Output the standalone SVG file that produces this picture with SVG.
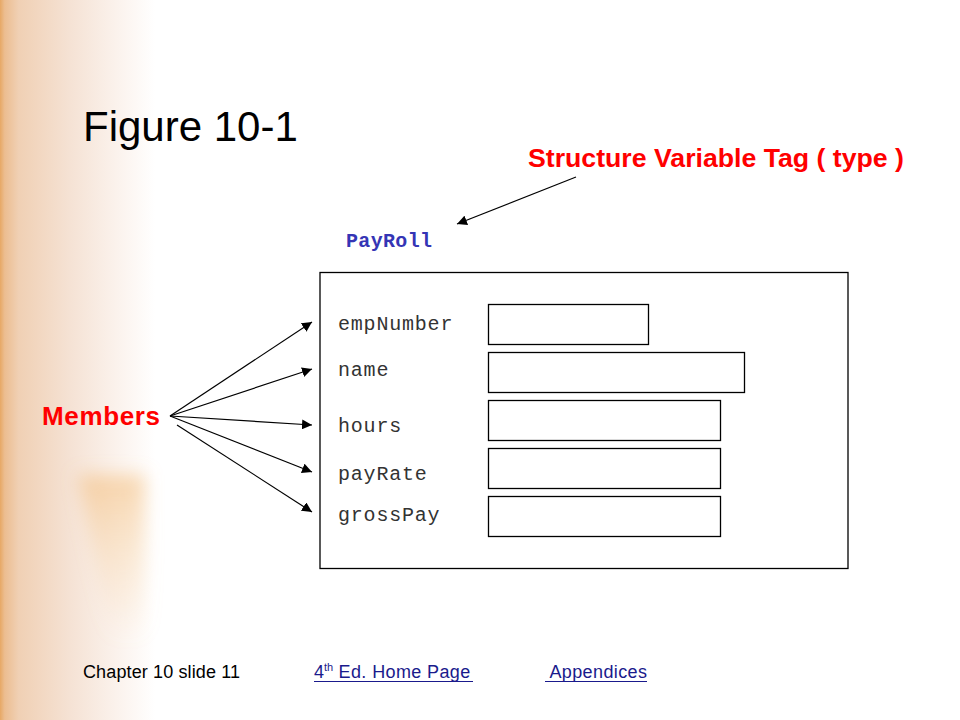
<svg xmlns="http://www.w3.org/2000/svg" width="960" height="720" viewBox="0 0 960 720">
  <defs>
    <linearGradient id="band" x1="0" y1="0" x2="1" y2="0">
      <stop offset="0" stop-color="#e7a865"/>
      <stop offset="0.03" stop-color="#ecbd90"/>
      <stop offset="0.12" stop-color="#f0d0b4"/>
      <stop offset="0.45" stop-color="#f5e2d4"/>
      <stop offset="0.75" stop-color="#fbf2ec"/>
      <stop offset="1" stop-color="#ffffff"/>
    </linearGradient>
    <linearGradient id="blob" x1="0" y1="0" x2="0" y2="1">
      <stop offset="0" stop-color="#f2b468" stop-opacity="0.5"/>
      <stop offset="0.5" stop-color="#f5c990" stop-opacity="0.3"/>
      <stop offset="1" stop-color="#f5c990" stop-opacity="0"/>
    </linearGradient>
    <filter id="soft" x="-30%" y="-30%" width="160%" height="160%">
      <feGaussianBlur stdDeviation="9"/>
    </filter>
    <marker id="arr" viewBox="0 0 10 10" refX="10" refY="5" markerWidth="10" markerHeight="10" markerUnits="userSpaceOnUse" orient="auto">
      <path d="M0,0 L10,5 L0,10 Z" fill="#000"/>
    </marker>
    <style>
      .mono { font-family: "Liberation Mono", "Courier New", monospace; font-size: 20px; fill: #333; letter-spacing: 0.8px; }
      .red { font-family: "Liberation Sans", Arial, sans-serif; font-weight: bold; fill: #ff0000; }
      .foot { font-family: "Liberation Sans", Arial, sans-serif; font-size: 18px; }
      .link { fill: #1a1a8c; }
      .box { fill: #fff; stroke: #000; stroke-width: 1.3; }
      .conn { stroke: #000; stroke-width: 1.2; fill: none; marker-end: url(#arr); }
    </style>
  </defs>

  <rect x="0" y="0" width="960" height="720" fill="#ffffff"/>
  <rect x="0" y="0" width="155" height="720" fill="url(#band)"/>
  <path d="M78,475 L145,475 L145,640 L112,640 Z" fill="url(#blob)" filter="url(#soft)"/>

  <g id="title">
    <text x="83" y="141" font-family="'Liberation Sans', Arial, sans-serif" font-size="42" fill="#000">Figure 10-1</text>
  </g>

  <g id="tag-label">
    <text class="red" x="528" y="167" font-size="25" textLength="376" lengthAdjust="spacingAndGlyphs">Structure Variable Tag ( type )</text>
  </g>

  <g id="payroll-label">
    <text x="346" y="247" font-family="'Liberation Mono', 'Courier New', monospace" font-size="20" font-weight="bold" fill="#3535b5" textLength="86">PayRoll</text>
  </g>

  <g id="members-label">
    <text class="red" x="42" y="425" font-size="26" textLength="118">Members</text>
  </g>

  <g id="structure">
    <rect class="box" x="320" y="272.5" width="528" height="296"/>
  </g>

  <g id="empNumber">
    <text class="mono" x="338" y="330">empNumber</text>
    <rect class="box" x="488.5" y="304.5" width="160" height="40"/>
  </g>
  <g id="name">
    <text class="mono" x="338" y="376">name</text>
    <rect class="box" x="488.5" y="352.5" width="256" height="40"/>
  </g>
  <g id="hours">
    <text class="mono" x="338" y="432">hours</text>
    <rect class="box" x="488.5" y="400.5" width="232" height="40"/>
  </g>
  <g id="payRate">
    <text class="mono" x="338" y="480">payRate</text>
    <rect class="box" x="488.5" y="448.5" width="232" height="40"/>
  </g>
  <g id="grossPay">
    <text class="mono" x="338" y="521">grossPay</text>
    <rect class="box" x="488.5" y="496.5" width="232" height="40"/>
  </g>

  <g id="connectors">
    <line class="conn" x1="576" y1="177" x2="457" y2="224"/>
    <line class="conn" x1="170" y1="416" x2="312" y2="322"/>
    <line class="conn" x1="170" y1="416" x2="312" y2="369"/>
    <line class="conn" x1="170" y1="416" x2="312" y2="425"/>
    <line class="conn" x1="170" y1="416" x2="312" y2="472"/>
    <line class="conn" x1="177" y1="425" x2="312" y2="512"/>
  </g>

  <g id="footer">
    <text class="foot" x="83" y="678" fill="#000" textLength="157">Chapter 10 slide 11</text>
    <text class="foot link" x="314" y="678">4<tspan font-size="11" dy="-7">th</tspan><tspan dy="7" textLength="137"> Ed. Home Page</tspan></text>
    <line x1="314" y1="681.5" x2="473" y2="681.5" stroke="#1a1a8c" stroke-width="1.2"/>
    <text class="foot link" x="545" y="678" xml:space="preserve" textLength="102"> Appendices</text>
    <line x1="545" y1="681.5" x2="647" y2="681.5" stroke="#1a1a8c" stroke-width="1.2"/>
  </g>
</svg>
